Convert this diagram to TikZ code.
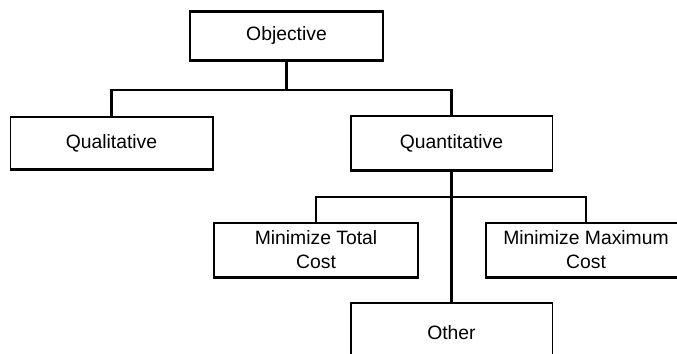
\documentclass[tikz,border=0pt]{standalone}
\usepackage{fontspec}
\setmainfont{Liberation Sans}

\begin{document}
\begin{tikzpicture}[x=0.75pt,y=-0.75pt,
  box/.style={rectangle,draw=black,line width=1pt,fill=white,align=center,
    inner sep=0pt,font=\fontsize{14.5}{18}\selectfont},
  link/.style={draw=black,line width=1.6pt},
  heavy/.style={draw=black,line width=2.4pt}]
\useasboundingbox (0,0) rectangle (677,353);
\clip (0,0) rectangle (677,353);
% top level
\node[box, minimum width=144.75pt, minimum height=36pt] (obj) at (286.5,36) {Objective};
% second level
\node[box, minimum width=152pt, minimum height=39pt] (qual) at (111.5,143) {Qualitative};
\node[box, minimum width=151pt, minimum height=40.5pt] (quant) at (451.5,143) {Quantitative};
% third level
\node[box, minimum width=153pt, minimum height=40.5pt] (mintot) at (316,250) {Minimize Total\\Cost};
\node[box, minimum width=150pt, minimum height=40.5pt] (minmax) at (586,250) {Minimize Maximum\\Cost};
\node[box, minimum width=151pt, minimum height=45pt] (other) at (451.5,333) {Other};
% heavy bottom edges
\foreach \n in {obj,qual,quant,mintot,minmax}
  \draw[heavy] (\n.south west) -- (\n.south east);
\draw[heavy] (obj.north west) -- (obj.north east);
% connectors
\coordinate (j1) at (obj.south |- 0,90);
\coordinate (j2) at (quant.south |- 0,197);
\draw[link] (obj.south) -- (j1);
\draw[link] (qual.north) |- (j1) -| (quant.north);
\draw[link] (quant.south) -- (other.north);
\draw[link] (mintot.north) |- (j2) -| (minmax.north);
\end{tikzpicture}
\end{document}
